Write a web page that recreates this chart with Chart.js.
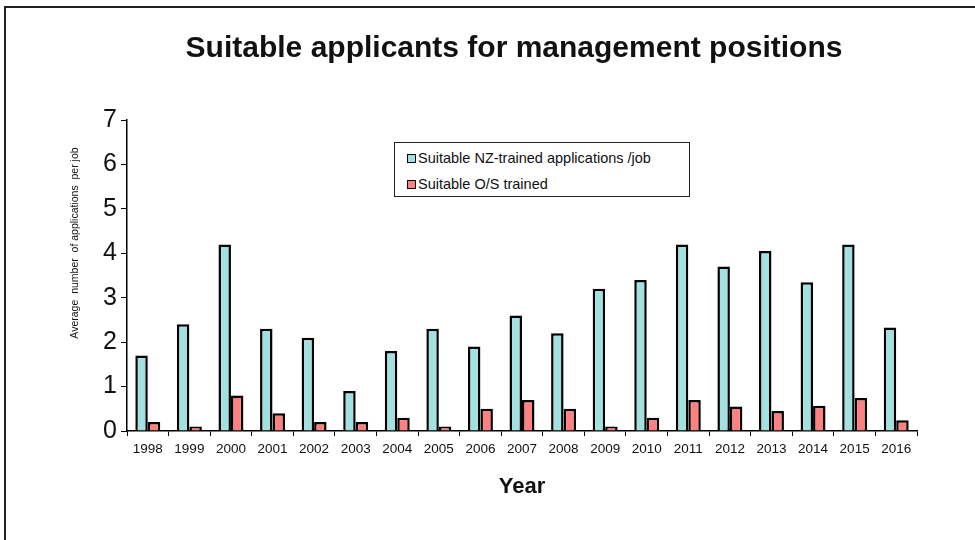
<!DOCTYPE html>
<html>
<head>
<meta charset="utf-8">
<script src="https://cdn.jsdelivr.net/npm/chart.js@4"></script>
<style>
  body { margin: 0; background: #fff; }
  #wrap { position: relative; width: 975px; height: 540px; overflow: hidden; }
  #frame { position: absolute; left: 4px; top: 6px; width: 990px; height: 560px;
           border-left: 2px solid #222; border-top: 2px solid #222; }
  #legend { position: absolute; left: 394px; top: 142px; width: 294px; height: 53px;
            border: 1.5px solid #222; background: #fff;
            font-family: "Liberation Sans", Arial, sans-serif; font-size: 14.5px; color: #111; }
  .item { position: absolute; left: 12px; height: 18px; line-height: 18px; white-space: nowrap; }
  .swatch { display: inline-block; width: 7px; height: 7px; border: 1.5px solid #000;
            margin-right: 2px; vertical-align: 0px; }
  canvas { position: absolute; left: 0; top: 0; }
</style>
</head>
<body>
<div id="wrap">
  <div id="frame"></div>
  <canvas id="chart" width="975" height="540"></canvas>
  <div id="legend"></div>
</div>
<script>
// 데이터
const years = ['1998', '1999', '2000', '2001', '2002', '2003', '2004', '2005', '2006', '2007',
               '2008', '2009', '2010', '2011', '2012', '2013', '2014', '2015', '2016'];
const nzTrained = [1.7, 2.4, 4.2, 2.3, 2.1, 0.9, 1.8, 2.3, 1.9, 2.6,
                   2.2, 3.2, 3.4, 4.2, 3.7, 4.05, 3.35, 4.2, 2.33];
const osTrained = [0.2, 0.1, 0.8, 0.4, 0.2, 0.2, 0.3, 0.1, 0.5, 0.7,
                   0.5, 0.1, 0.3, 0.7, 0.55, 0.45, 0.57, 0.74, 0.24];
const seriesNames = ['Suitable NZ-trained applications /job', 'Suitable O/S trained'];
const seriesColors = ['#a3e0e0', '#ff8080'];

const chartTitle = 'Suitable applicants for management positions';
const yTitle = 'Average  number  of applications  per job';
const font = '"Liberation Sans", Arial, sans-serif';

// 제목과 y축 제목 그리기
const titlePlugin = {
    id: 'mainTitle',
    afterDraw(chart) {
        const ctx = chart.ctx;
        ctx.save();
        ctx.font = 'bold 30px ' + font;
        ctx.fillStyle = '#111';
        ctx.textAlign = 'center';
        ctx.textBaseline = 'middle';
        ctx.fillText(chartTitle, 514, 49);

        ctx.translate(75, 243);
        ctx.rotate(-Math.PI / 2);
        ctx.font = '10.5px ' + font;
        ctx.fillText(yTitle, 0, 0);
        ctx.restore();
    }
};

new Chart(document.getElementById('chart'), {
    type: 'bar',
    data: {
        labels: years,
        datasets: [
            {
                label: seriesNames[0],
                data: nzTrained,
                backgroundColor: seriesColors[0],
                borderColor: '#000',
                borderWidth: 2.5
            },
            {
                label: seriesNames[1],
                data: osTrained,
                backgroundColor: seriesColors[1],
                borderColor: '#000',
                borderWidth: 2.5
            }
        ]
    },
    options: {
        responsive: false,
        animation: false,
        layout: { padding: { left: 5, right: 58, top: 120, bottom: 0 } },
        datasets: {
            bar: { categoryPercentage: 0.6, barPercentage: 1 }
        },
        plugins: {
            legend: { display: false },
            tooltip: { enabled: false }
        },
        scales: {
            x: {
                grid: { drawOnChartArea: false, color: '#000', tickLength: 5, offset: true },
                border: { color: '#000', width: 1.5 },
                ticks: { color: '#111', font: { family: font, size: 13.5 }, padding: 5, maxRotation: 0, autoSkip: false },
                title: {
                    display: true, text: 'Year', color: '#111',
                    font: { family: font, size: 22, weight: 'bold' },
                    padding: { top: 0, bottom: 40 }
                },
                afterFit(scale) { scale.height = 109; }
            },
            y: {
                min: 0,
                max: 7,
                grid: { drawOnChartArea: false, color: '#000', tickLength: 6 },
                border: { color: '#000', width: 1.5 },
                ticks: { stepSize: 1, color: '#111', font: { family: font, size: 25 }, padding: 4 },
                afterFit(scale) { scale.width = 122; }
            }
        }
    },
    plugins: [titlePlugin]
});

// 범례 만들기
const legend = document.getElementById('legend');
seriesNames.forEach((name, i) => {
    const item = document.createElement('div');
    item.className = 'item';
    item.style.top = (i === 0 ? 6 : 32) + 'px';
    const sw = document.createElement('span');
    sw.className = 'swatch';
    sw.style.background = seriesColors[i];
    item.appendChild(sw);
    item.appendChild(document.createTextNode(name));
    legend.appendChild(item);
});
</script>
</body>
</html>
